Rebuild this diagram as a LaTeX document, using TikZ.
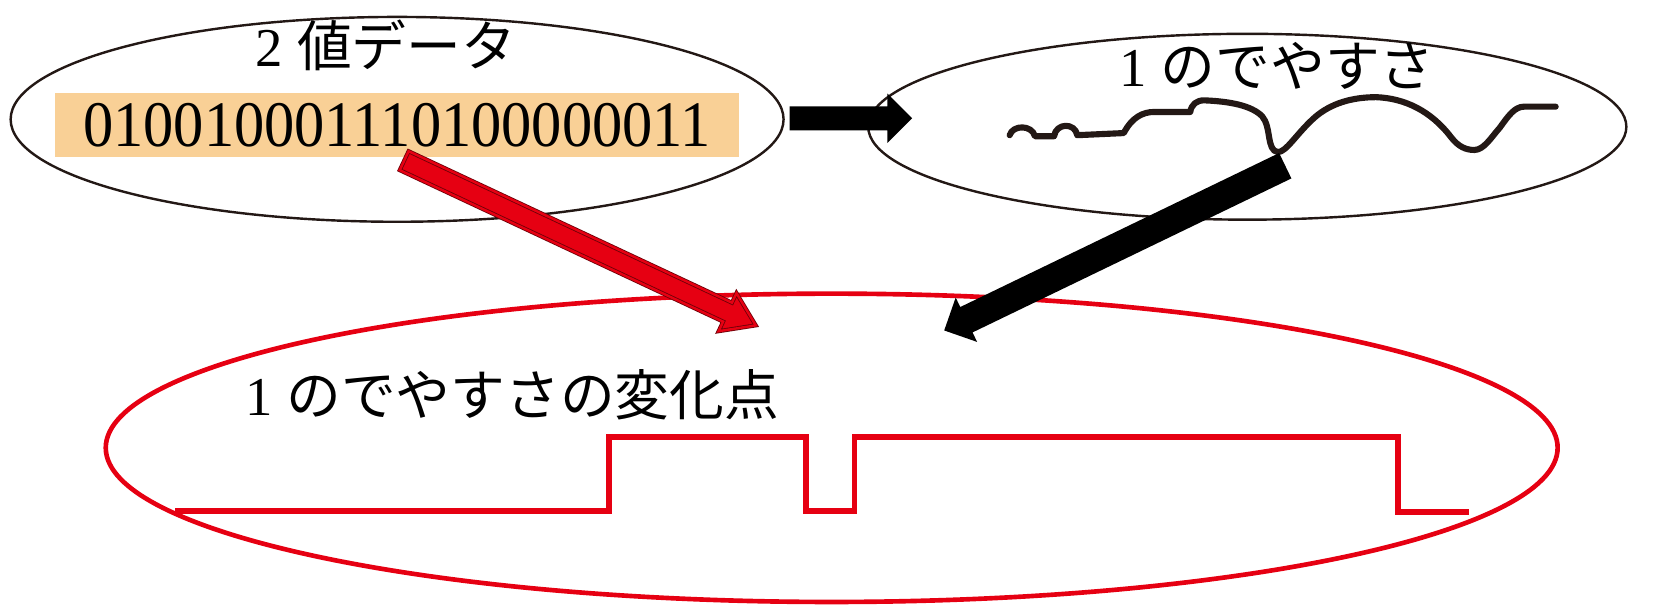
\documentclass[tikz,border=0pt]{standalone}
\usepackage{fontspec}
\setmainfont{Liberation Serif}
\newfontfamily\jpfont{Noto Sans CJK JP}
\usetikzlibrary{shapes.geometric,shapes.arrows,arrows.meta}
\definecolor{pptred}{RGB}{230,0,18}
\definecolor{darkred}{RGB}{110,0,8}
\definecolor{peach}{RGB}{249,208,150}
\definecolor{ink}{RGB}{35,24,21}
\begin{document}
\begin{tikzpicture}[x=0.02cm,y=-0.02cm,
  lbl/.style={anchor=base west, inner sep=0, font=\fontsize{29.5pt}{32pt}\selectfont},
  oval/.style={ellipse, draw=ink, line width=1.3pt, inner sep=0},
  blockarrow/.style={single arrow, midway, sloped, allow upside down, inner xsep=0pt, minimum width=0pt},
  wave/.style={draw=ink, line width=3.3pt, line cap=round, line join=round}]
\useasboundingbox (0,0) rectangle (1568,572);

% ellipses
\node[oval, minimum width=14.64cm, minimum height=3.88cm] (e1) at (376,113) {};
\node[oval, minimum width=14.36cm, minimum height=3.52cm] (e2) at (1181,120) {};
\node[ellipse, draw=pptred, line width=2.5pt, inner sep=0, minimum width=27.5cm, minimum height=5.84cm] (e3) at (787.5,424) {};

% binary data
\node[fill=peach, inner sep=0, minimum width=12.96cm, minimum height=1.22cm,
      font=\fontsize{35pt}{38pt}\selectfont] (box) at (376,118.5) {\scalebox{0.93}[1]{010010001110100000011}};

% labels
\node[lbl] (t1) at (242,63) {2 {\jpfont 値データ}};
\node[lbl] (t2) at (1060,82) {1 {\jpfont のでやすさ}};
\node[lbl] (t3) at (232,393) {1 {\jpfont のでやすさの変化点}};

% wave in the right ellipse
\draw[wave] (956,128) .. controls (959,118) and (977,118) .. (980,129) -- (998,129)
  .. controls (1000,116) and (1018,116) .. (1020,128) -- (1064,126)
  .. controls (1072,111) and (1082,106) .. (1093,106) -- (1127,106)
  .. controls (1128,99) and (1133,95) .. (1140,95)
  .. controls (1165,96) and (1185,100) .. (1195,110)
  .. controls (1204,120) and (1199,143) .. (1210,144)
  .. controls (1218,144) and (1228,126) .. (1245,111)
  .. controls (1260,98) and (1280,92) .. (1303,92)
  .. controls (1330,93) and (1355,105) .. (1374,130)
  .. controls (1381,139) and (1388,142) .. (1396,142)
  .. controls (1405,142) and (1412,130) .. (1420,121)
  .. controls (1428,110) and (1434,101) .. (1443,101) -- (1473,101);

% step waveform
\draw[pptred, line width=0.11cm, line join=miter] (166,484) -- (577,484) -- (577,414) -- (763,414)
  -- (763,484) -- (809,484) -- (809,414) -- (1324,414) -- (1324,485) -- (1391,485);

% arrows
\coordinate (ba) at (742,112);
\coordinate (bb) at (858,112);
\path (ba) -- (bb) node[blockarrow, fill=black, minimum height=2.32cm,
   inner ysep=0.22cm, single arrow head extend=0.24cm, single arrow tip angle=90] (arr1) {};

\coordinate (ra) at (376,149);
\coordinate (rb) at (709,305);
\path (ra) -- (rb) node[blockarrow, fill=pptred, draw=darkred, line width=0.45pt,
   double=pptred, double distance=1.3pt, minimum height=7.354cm,
   inner ysep=0.19cm, single arrow head extend=0.2cm, single arrow tip angle=68] (arr2) {};

\coordinate (ka) at (1223,154);
\coordinate (kb) at (900,310);
\path (ka) -- (kb) node[blockarrow, fill=black, minimum height=7.174cm,
   inner ysep=0.26cm, single arrow head extend=0.2cm, single arrow tip angle=90] (arr3) {};
\end{tikzpicture}
\end{document}
